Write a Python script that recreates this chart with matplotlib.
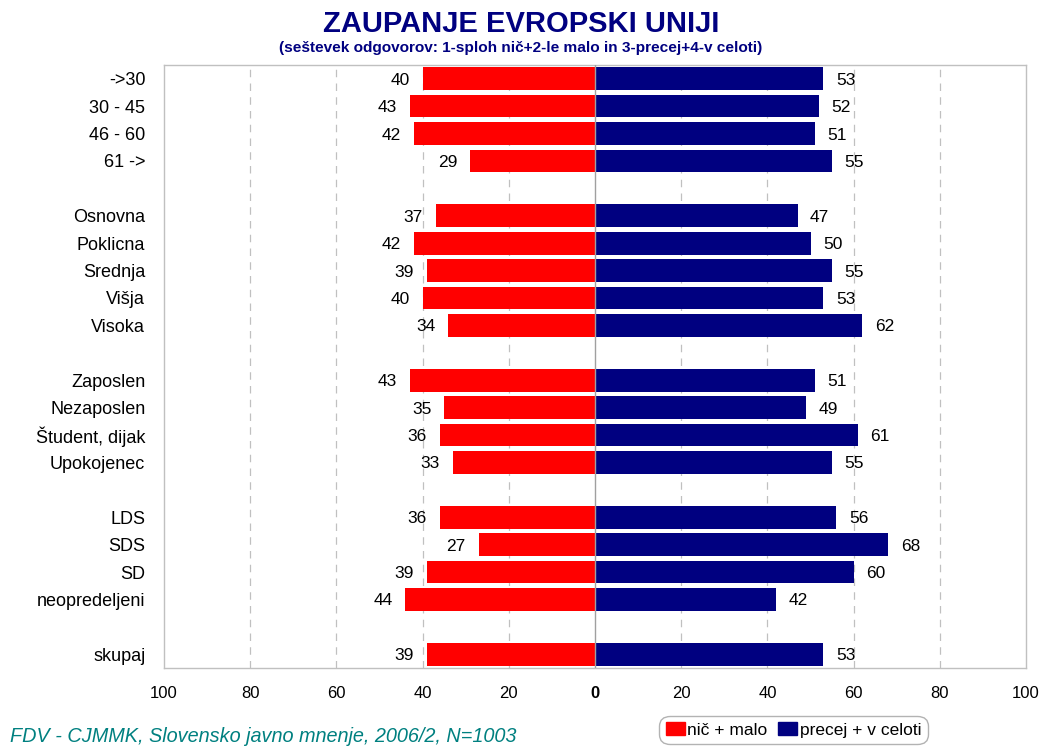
import matplotlib
matplotlib.use("Agg")
import matplotlib.pyplot as plt
from matplotlib.ticker import FixedLocator
from matplotlib.patches import Patch
import numpy as np

plt.rcParams['font.family'] = ['Liberation Sans', 'DejaVu Sans']

categories = ["->30", "30 - 45", "46 - 60", "61 ->", None,
              "Osnovna", "Poklicna", "Srednja", "Višja", "Visoka", None,
              "Zaposlen", "Nezaposlen", "Študent, dijak", "Upokojenec", None,
              "LDS", "SDS", "SD", "neopredeljeni", None,
              "skupaj"]
nic_malo = [40, 43, 42, 29, None,
            37, 42, 39, 40, 34, None,
            43, 35, 36, 33, None,
            36, 27, 39, 44, None,
            39]
precej_celoti = [53, 52, 51, 55, None,
                 47, 50, 55, 53, 62, None,
                 51, 49, 61, 55, None,
                 56, 68, 60, 42, None,
                 53]
tick_values = [-100, -80, -60, -40, -20, 0, 20, 40, 60, 80, 100]
tick_labels = ["100", "80", "60", "40", "20", "0", "20", "40", "60", "80", "100"]

RED = "#FF0000"
NAVY = "#000080"

fig = plt.figure(figsize=(10.42, 7.47), dpi=100)
ax = fig.add_axes([0.1574, 0.1058, 0.8273, 0.8072])

n = len(categories)
ypos = np.arange(n)
idx = [i for i, c in enumerate(categories) if c is not None]
neg = [-nic_malo[i] for i in idx]
pos = [precej_celoti[i] for i in idx]
yy = [ypos[i] for i in idx]

bh = 0.83
ax.barh(yy, neg, height=bh, color=RED, zorder=3)
ax.barh(yy, pos, height=bh, color=NAVY, zorder=3)

for y, v in zip(yy, neg):
    ax.text(v - 3.0, y, f"{-v}", ha="right", va="center_baseline", fontsize=12.5, color="black")
for y, v in zip(yy, pos):
    ax.text(v + 2.9, y, f"{v}", ha="left", va="center_baseline", fontsize=12.5, color="black")

ax.set_xlim(-100, 100)
ax.set_ylim(n - 0.5, -0.5)
ax.set_yticks(yy)
ax.set_yticklabels([categories[i] for i in idx], fontsize=13)
ax.tick_params(axis="y", length=0, pad=13.5)
ax.xaxis.set_major_locator(FixedLocator(tick_values))
ax.set_xticklabels(tick_labels, fontsize=12)
ax.tick_params(axis="x", length=0, pad=13)
for lbl in ax.get_xticklabels():
    if lbl.get_text() == "0":
        lbl.set_fontweight("bold")

for t in tick_values:
    if t in (-100, 100):
        continue
    if t == 0:
        ax.axvline(0, color="#A0A0A0", lw=1.0, zorder=4)
    else:
        ax.axvline(t, color="#C0C0C0", lw=0.9, ls=(0, (6, 5)), zorder=1)

for s in ax.spines.values():
    s.set_color("#C0C0C0")
    s.set_linewidth(1.0)

fig.text(0.5, 0.968, "ZAUPANJE EVROPSKI UNIJI", ha="center", va="center",
         fontsize=21, fontweight="bold", color=NAVY)
fig.text(0.5, 0.936, "(seštevek odgovorov: 1-sploh nič+2-le malo in 3-precej+4-v celoti)",
         ha="center", va="center", fontsize=11.1, fontweight="bold", color=NAVY)

fig.text(0.0096, 0.0134, "FDV - CJMMK, Slovensko javno mnenje, 2006/2, N=1003",
         ha="left", va="center", fontsize=14.3, style="italic", color="#008080")

handles = [Patch(color=RED, label="nič + malo"), Patch(color=NAVY, label="precej + v celoti")]
leg = fig.legend(handles=handles, loc="center", bbox_to_anchor=(0.7615, 0.0228), ncol=2,
                 fontsize=12.5, frameon=True, fancybox=True, handlelength=1.1, handleheight=0.8,
                 handletextpad=0.15, columnspacing=0.6, borderpad=0.22, borderaxespad=0)
leg.get_frame().set_edgecolor("#A0A0A0")
leg.get_frame().set_linewidth(1.0)
leg.get_frame().set_boxstyle("round", pad=0.15, rounding_size=0.6)

fig.savefig("out.png", dpi=100)
